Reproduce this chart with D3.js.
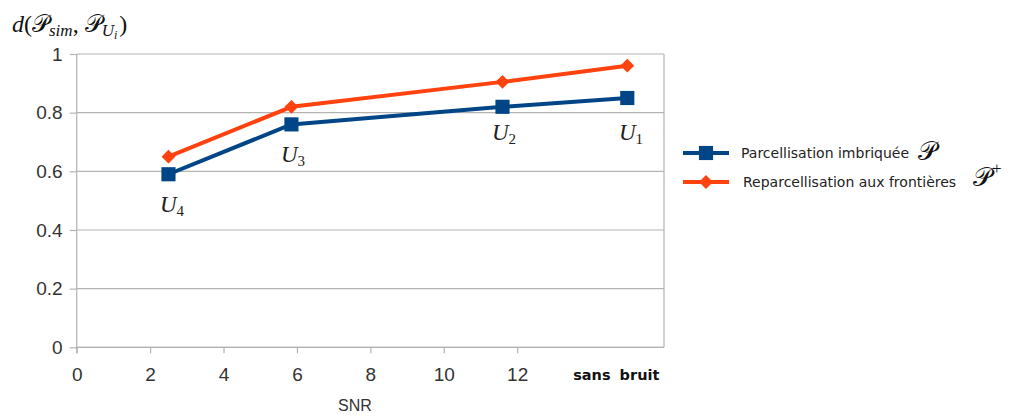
<!DOCTYPE html>
<html><head><meta charset="utf-8">
<script src="https://cdn.jsdelivr.net/npm/d3@7"></script>
<style>
html,body{margin:0;padding:0;background:#fff;}
svg{display:block;}
</style></head>
<body>
<svg id="chart" width="1013" height="418"></svg>
<script>
// ---- data ----
const snr = [2.5, 5.85, 11.6, 15];
const pointLabels = ["4", "3", "2", "1"];
const imbriquee = [0.59, 0.76, 0.82, 0.85];
const reparcel = [0.65, 0.82, 0.905, 0.96];
const xTicks = [0, 2, 4, 6, 8, 10, 12];
const yTicks = [0, 0.2, 0.4, 0.6, 0.8, 1];
const noNoiseLabel = "sans bruit";
const noNoiseX = 14.7;
const seriesNames = ["Parcellisation imbriquée", "Reparcellisation aux frontières"];
const seriesColors = ["#004586", "#ff420e"];

const svg = d3.select("#chart");
const x = d3.scaleLinear().domain([0, 16]).range([76.7, 664]);
const y = d3.scaleLinear().domain([0, 1]).range([347.3, 54]);
const grid = "#b3b3b3";

// gridlines
svg.append("g").selectAll("line").data(yTicks).join("line")
  .attr("x1", x(0)).attr("x2", x(16))
  .attr("y1", d => y(d)).attr("y2", d => y(d))
  .attr("stroke", grid).attr("stroke-width", 1.2);
// right border
svg.append("line").attr("x1", x(16)).attr("x2", x(16)).attr("y1", y(1)).attr("y2", y(0))
  .attr("stroke", grid).attr("stroke-width", 1.2);

// y axis
const yAxis = svg.append("g").attr("transform", `translate(${x(0)},0)`)
  .call(d3.axisLeft(y).tickValues(yTicks).tickFormat(d3.format("")).tickSize(7).tickPadding(7));
// x axis
const xAxis = svg.append("g").attr("transform", `translate(0,${y(0)})`)
  .call(d3.axisBottom(x).tickValues(xTicks).tickFormat(d3.format("d")).tickSize(6).tickPadding(14));
[yAxis, xAxis].forEach(a => {
  a.select(".domain").attr("stroke", grid).attr("stroke-width", 1.2);
  a.selectAll(".tick line").attr("stroke", grid).attr("stroke-width", 1.2);
  a.selectAll(".tick text").attr("fill", "#333").attr("font-family", "Liberation Sans, Arial, sans-serif").attr("font-size", 19);
});
xAxis.select(".domain").attr("d", `M${x(0)},0H${x(16)}`);
yAxis.select(".domain").attr("d", `M0,${y(1)}V${y(0) + 6}`);

// "sans bruit"
svg.append("text").attr("x", x(noNoiseX)).attr("y", 380)
  .attr("text-anchor", "middle").attr("font-family", "DejaVu Sans, sans-serif")
  .attr("font-weight", "bold").attr("font-size", 14.5).attr("word-spacing", 4)
  .attr("fill", "#111").text(noNoiseLabel);

// SNR label
svg.append("text").attr("x", 355).attr("y", 411).attr("text-anchor", "middle")
  .attr("font-family", "Liberation Sans, Arial, sans-serif").attr("font-size", 16)
  .attr("fill", "#333").text("SNR");

// title
const title = svg.append("text").attr("x", 12).attr("y", 32)
  .attr("font-family", "Liberation Serif, serif").attr("font-size", 24).attr("fill", "#111");
title.append("tspan").attr("font-style", "italic").text("d");
title.append("tspan").text("(");
title.append("tspan").text("𝒫");
title.append("tspan").attr("font-style", "italic").attr("font-size", 17).attr("dy", 4).text("sim");
title.append("tspan").attr("dy", -4).text(", ");
title.append("tspan").text("𝒫");
title.append("tspan").attr("font-style", "italic").attr("font-size", 17).attr("dy", 4).text("U");
title.append("tspan").attr("font-style", "italic").attr("font-size", 12).attr("dy", 3).text("i");
title.append("tspan").attr("dy", -7).attr("dx", 2).text(")");

// lines
const data = [imbriquee, reparcel];
const line = d3.line().x((d, i) => x(snr[i])).y(d => y(d));
data.forEach((vals, s) => {
  svg.append("path").datum(vals).attr("d", line)
    .attr("fill", "none").attr("stroke", seriesColors[s]).attr("stroke-width", 4)
    .attr("stroke-linejoin", "round");
});
// markers
const sq = d3.symbol().type(d3.symbolSquare).size(200);
const dm = d3.symbol().type(d3.symbolSquare).size(95);
svg.append("g").selectAll("path").data(imbriquee).join("path")
  .attr("transform", (d, i) => `translate(${x(snr[i])},${y(d)})`)
  .attr("d", sq).attr("fill", seriesColors[0]);
svg.append("g").selectAll("path").data(reparcel).join("path")
  .attr("transform", (d, i) => `translate(${x(snr[i])},${y(d)}) rotate(45)`)
  .attr("d", dm).attr("fill", seriesColors[1]);

// point labels U_i
const labelPos = [[172, 212], [293, 162], [504, 140], [631, 140]];
pointLabels.forEach((s, i) => {
  const t = svg.append("text").attr("x", labelPos[i][0]).attr("y", labelPos[i][1])
    .attr("text-anchor", "middle").attr("font-family", "Liberation Serif, serif")
    .attr("font-size", 23).attr("fill", "#222");
  t.append("tspan").attr("font-style", "italic").text("U");
  t.append("tspan").attr("font-size", 15).attr("dy", 4).text(s);
});

// legend
const legY = [153, 182];
const legTextX = [741, 743];
const legMath = [["𝒫", ""], ["𝒫", "+"]];
const legMathX = [918, 973];
const legMathY = [160, 186];
seriesNames.forEach((name, s) => {
  svg.append("line").attr("x1", 683).attr("x2", 729).attr("y1", legY[s]).attr("y2", legY[s])
    .attr("stroke", seriesColors[s]).attr("stroke-width", 4);
  svg.append("path").attr("transform", `translate(706,${legY[s]})` + (s === 1 ? " rotate(45)" : ""))
    .attr("d", s === 0 ? sq : dm).attr("fill", seriesColors[s]);
  svg.append("text").attr("x", legTextX[s]).attr("y", legY[s] + 5)
    .attr("font-family", "DejaVu Sans, sans-serif").attr("font-size", 14)
    .attr("fill", "#222").text(name);
  const m = svg.append("text").attr("x", legMathX[s]).attr("y", legMathY[s])
    .attr("font-family", "Liberation Serif, serif").attr("font-size", 26).attr("fill", "#111");
  m.append("tspan").text(legMath[s][0]);
  if (legMath[s][1]) m.append("tspan").attr("font-size", 17).attr("dy", -12).text(legMath[s][1]);
});
</script>
</body></html>
